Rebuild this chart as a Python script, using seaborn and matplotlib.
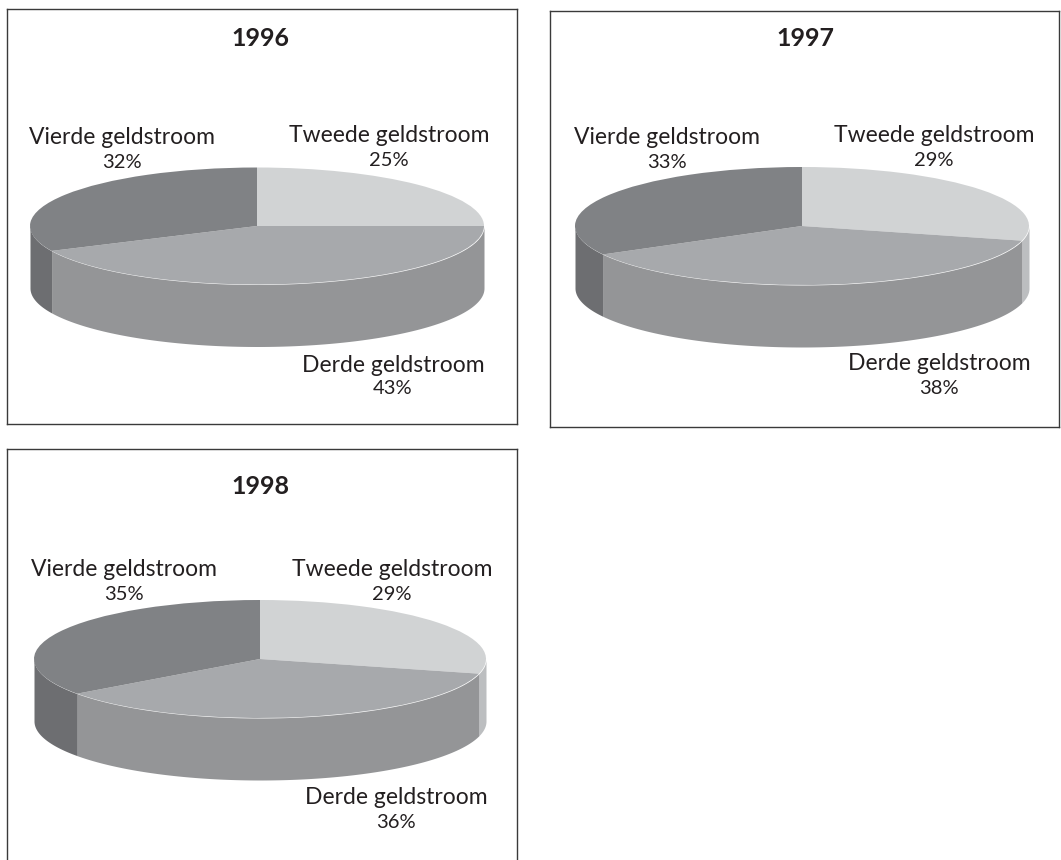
# Geldstromen per jaar, 3D-look pie charts
import numpy as np
import matplotlib
matplotlib.use("Agg")
import matplotlib.pyplot as plt
import seaborn as sns

W, H = 1061, 860

years = ["1996", "1997", "1998"]
streams = ["Tweede geldstroom", "Derde geldstroom", "Vierde geldstroom"]
shares_1996 = [25, 43, 32]
shares_1997 = [29, 38, 33]
shares_1998 = [29, 36, 35]

top_colors = ["#d1d3d4", "#a7a9ac", "#808285"]
wall_colors = ["#bcbec0", "#949597", "#6d6e71"]

sns.set_theme(style="white")
plt.rcParams["font.family"] = ["Lato", "DejaVu Sans"]


def px_text(fig, x, y, s, **kw):
    fig.text(x / W, 1 - y / H, s, ha="center", va="center", color="#231f20", **kw)


def draw_panel(fig, frame, center, shares, year, title_pos, label_pos):
    """One boxed pie, frame and positions given in picture pixels."""
    x0, y0, x1, y1 = frame
    cx, cy, rx, ry, depth = center
    ax = fig.add_axes([x0 / W, 1 - y1 / H, (x1 - x0) / W, (y1 - y0) / H])

    # side wall, only the part of each slice on the front half shows
    edges = 90 - 3.6 * np.cumsum([0] + shares)
    for i in range(len(shares)):
        a = max(edges[i + 1], -180)
        b = min(edges[i], 0)
        if a >= b:
            continue
        t = np.radians(np.linspace(a, b, 120))
        ax.fill_between(np.cos(t), np.sin(t), np.sin(t) - depth / ry,
                        color=wall_colors[i], lw=0, zorder=1)

    ax.pie(shares, colors=top_colors, startangle=90, counterclock=False,
           frame=True, wedgeprops={"linewidth": 0, "zorder": 2})
    ax.set_aspect("auto")
    ax.set_xlim((x0 - cx) / rx, (x1 - cx) / rx)
    ax.set_ylim((cy - y1) / ry, (cy - y0) / ry)
    ax.set_xticks([])
    ax.set_yticks([])
    for sp in ax.spines.values():
        sp.set_visible(True)
        sp.set_color("#3a3a3a")
        sp.set_linewidth(1.0)

    px_text(fig, title_pos[0], title_pos[1], year, fontsize=18, fontweight="bold")
    for name, share, (lx, ly, py) in zip(streams, shares, label_pos):
        px_text(fig, lx, ly, name, fontsize=16.5)
        px_text(fig, lx, py, f"{share}%", fontsize=14.5)


fig = plt.figure(figsize=(W / 100, H / 100), dpi=100, facecolor="white")

draw_panel(fig, (7, 9, 517, 424), (257, 226, 227, 58.5, 62), shares_1996, years[0],
           (260, 39), [(389, 136, 161), (393, 365, 389), (122, 137, 162)])
draw_panel(fig, (550, 11, 1059, 427), (802, 226, 227, 59, 62), shares_1997, years[1],
           (805, 39), [(934, 135, 160), (939, 363, 388), (667, 137, 162)])
draw_panel(fig, (7, 449, 517, 885), (260, 659, 226, 59, 62), shares_1998, years[2],
           (260, 486), [(392, 569, 594), (396, 797, 822), (124, 570, 595)])

fig.savefig("out.png", dpi=100)
